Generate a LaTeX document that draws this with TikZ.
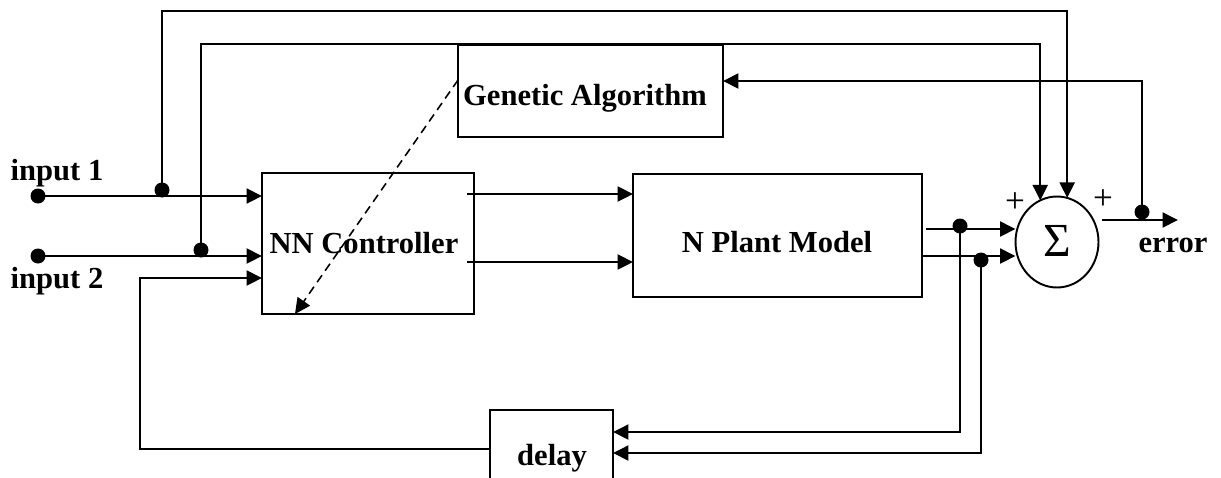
\documentclass[tikz,border=0pt]{standalone}
\usepackage{fontspec}
\setmainfont{Liberation Serif}
\usetikzlibrary{arrows.meta,shapes.geometric}
\begin{document}
\begin{tikzpicture}[x=0.02cm,y=-0.02cm,line width=1.1pt,
  >={Triangle[length=0.31cm,width=0.3cm]},
  blk/.style={draw,inner sep=0pt,outer sep=0pt},
  lbl/.style={font=\fontsize{17.4}{20}\selectfont\bfseries,anchor=base,inner sep=0pt},
  sgn/.style={font=\fontsize{20}{22}\selectfont,inner sep=0pt},
  dot/.style={circle,fill,inner sep=0pt,minimum size=0.3cm},
  dashline/.style={dash pattern=on 0.17cm off 0.11cm,line width=0.9pt}]
\clip (0,0) rectangle (1221,477);
% blocks
\node[blk,minimum width=5.3cm,minimum height=1.84cm] (ga) at (590.5,91) {};
\node[blk,minimum width=4.24cm,minimum height=2.82cm] (nn) at (368,243.5) {};
\node[blk,minimum width=5.78cm,minimum height=2.46cm] (plant) at (777.5,235.5) {};
\node[blk,minimum width=2.46cm,minimum height=1.8cm] (delay) at (551.5,455) {};
\node[blk,ellipse,minimum width=1.66cm,minimum height=1.82cm] (sum) at (1057,242) {};
% labels
\node[lbl] (galbl) at (585,105) {Genetic Algorithm};
\node[lbl] (nnlbl) at (364,253) {NN Controller};
\node[lbl] (plbl) at (777,252) {N Plant Model};
\node[lbl] (dlbl) at (552,465) {delay};
\node[lbl] (in1) at (57,180) {input 1};
\node[lbl] (in2) at (57,288) {input 2};
\node[lbl] (err) at (1173,252) {error};
\node[font=\fontsize{27}{30}\selectfont,anchor=base,inner sep=0pt] (sig) at (1057,256) {Σ};
\node[sgn] (p1) at (1015,203) {+};
\node[sgn] (p2) at (1103,200) {+};
% dots
\node[dot] (i1) at (38,196) {};
\node[dot] (i2) at (38,256) {};
\node[dot] (j1) at (162,190) {};
\node[dot] (j2) at (201,250) {};
\node[dot] (d1) at (960,226) {};
\node[dot] (d2) at (981,260) {};
\node[dot] (e1) at (1142,212) {};
% inputs
\draw[->] (i1.center) -- (nn.west |- 0,196);
\draw[->] (i2.center) -- (nn.west |- 0,256);
% feed-forward lines to sum
\draw[->] (j1.center) -- (162,11) -| (sum.77);
\draw[->] (j2.center) -- (201,44) -| (sum.112);
% controller to plant
\draw[->] (467,194) -- (plant.west |- 0,194);
\draw[->] (467,262) -- (plant.west |- 0,262);
% plant to sum
\draw[->] (926,229) -- (sum.west |- 0,229);
\draw[->] (plant.east |- 0,256) -- (sum.west |- 0,256);
% sum output
\coordinate (errend) at (1178,220);
\draw[->] (1102,220) -- (errend);
% error to GA
\draw[->] (e1.center) -- (1142,81) -- (ga.east |- 0,81);
% to delay
\draw[->] (d1.center) -- (960,432) -- (delay.east |- 0,432);
\draw[->] (d2.center) -- (981,453) -- (delay.east |- 0,453);
% delay back to controller
\draw[->] (delay.west |- 0,449) -- (140,449) -- (140,278) -- (nn.west |- 0,278);
% GA tuning dashed arrow
\draw[dashline,->] (ga.west |- 0,80) -- (295,0 |- nn.south);
\end{tikzpicture}
\end{document}
